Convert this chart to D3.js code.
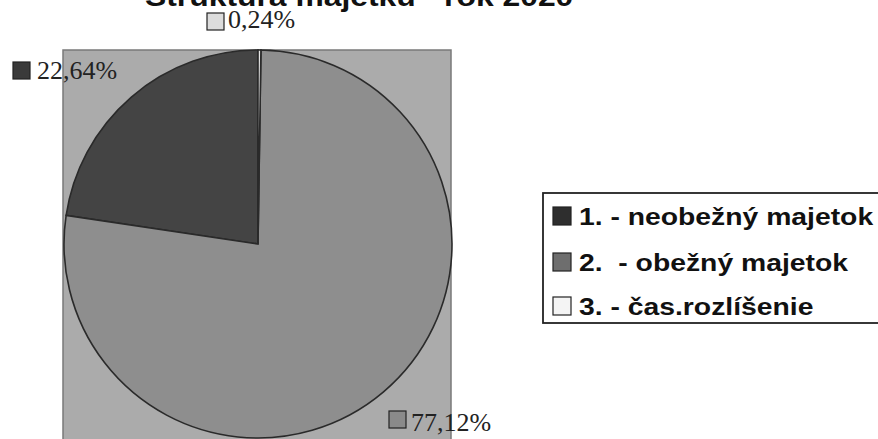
<!DOCTYPE html>
<html><head><meta charset="utf-8">
<script src="https://cdn.jsdelivr.net/npm/d3@7"></script>
<style>body{margin:0;background:#fff}</style>
</head><body>
<svg id="c" width="878" height="439"></svg>
<script>
const title = "Štruktúra majetku - rok 2020";
const categories = ["1. - neobežný majetok", "2.  - obežný majetok", "3. - čas.rozlíšenie"];
const values = [22.64, 77.12, 0.24];
const labels = ["22,64%", "77,12%", "0,24%"];
const sliceColors = ["#444444", "#8e8e8e", "#e6e6e6"];
const legendColors = ["#2e2e2e", "#6e6e6e", "#f4f4f4"];

const svg = d3.select("#c");
const cx = 258, cy = 244, r = 194;

// plot area background
svg.append("rect").attr("x", 63).attr("y", 50).attr("width", 388).attr("height", 395)
  .attr("fill", "#ababab").attr("stroke", "#7a7a7a").attr("stroke-width", 1.5);

const pie = d3.pie().sort(null).value(d => d).startAngle(0).endAngle(-2 * Math.PI);
const arc = d3.arc().innerRadius(0).outerRadius(r);
const arcs = pie(values);
const g = svg.append("g").attr("transform", `translate(${cx},${cy})`);
g.selectAll("path").data(arcs).join("path")
  .attr("d", arc)
  .attr("fill", (d, i) => sliceColors[i])
  .attr("stroke", "#2a2a2a").attr("stroke-width", 1.6);

// title
svg.append("text").attr("transform", "translate(145,6) scale(1.18,1)")
  .attr("font-family", "Liberation Sans, Arial, sans-serif").attr("font-weight", "bold")
  .attr("font-size", 27).attr("fill", "#111").text(title);

// data labels
const labelPos = [
  {sx: 13, sy: 62, tx: 37, ty: 79},
  {sx: 389, sy: 411, tx: 411, ty: 431},
  {sx: 207, sy: 13, tx: 228, ty: 28}
];
labelPos.forEach((p, i) => {
  svg.append("rect").attr("x", p.sx).attr("y", p.sy).attr("width", 17).attr("height", 17)
    .attr("fill", legendColors[i] === "#f4f4f4" ? "#dcdcdc" : (i === 1 ? "#8a8a8a" : "#3a3a3a"))
    .attr("stroke", "#222").attr("stroke-width", 1.2);
  svg.append("text").attr("x", p.tx).attr("y", p.ty)
    .attr("font-family", "Liberation Serif, Times New Roman, serif")
    .attr("font-size", 26).attr("fill", "#222").text(labels[i]);
});

// legend
svg.append("rect").attr("x", 543).attr("y", 193).attr("width", 345).attr("height", 130)
  .attr("fill", "#fff").attr("stroke", "#222").attr("stroke-width", 1.8);
const rows = [225, 271, 315];
categories.forEach((c, i) => {
  svg.append("rect").attr("x", 553).attr("y", rows[i] - 18).attr("width", 18).attr("height", 18)
    .attr("fill", legendColors[i]).attr("stroke", "#222").attr("stroke-width", 1.2);
  svg.append("text").attr("transform", `translate(579,${rows[i]}) scale(1.18,1)`)
    .attr("font-family", "Liberation Sans, Arial, sans-serif").attr("font-weight", "bold")
    .attr("font-size", 24).attr("fill", "#111").attr("xml:space", "preserve")
    .style("white-space", "pre").text(c);
});
</script>
</body></html>
